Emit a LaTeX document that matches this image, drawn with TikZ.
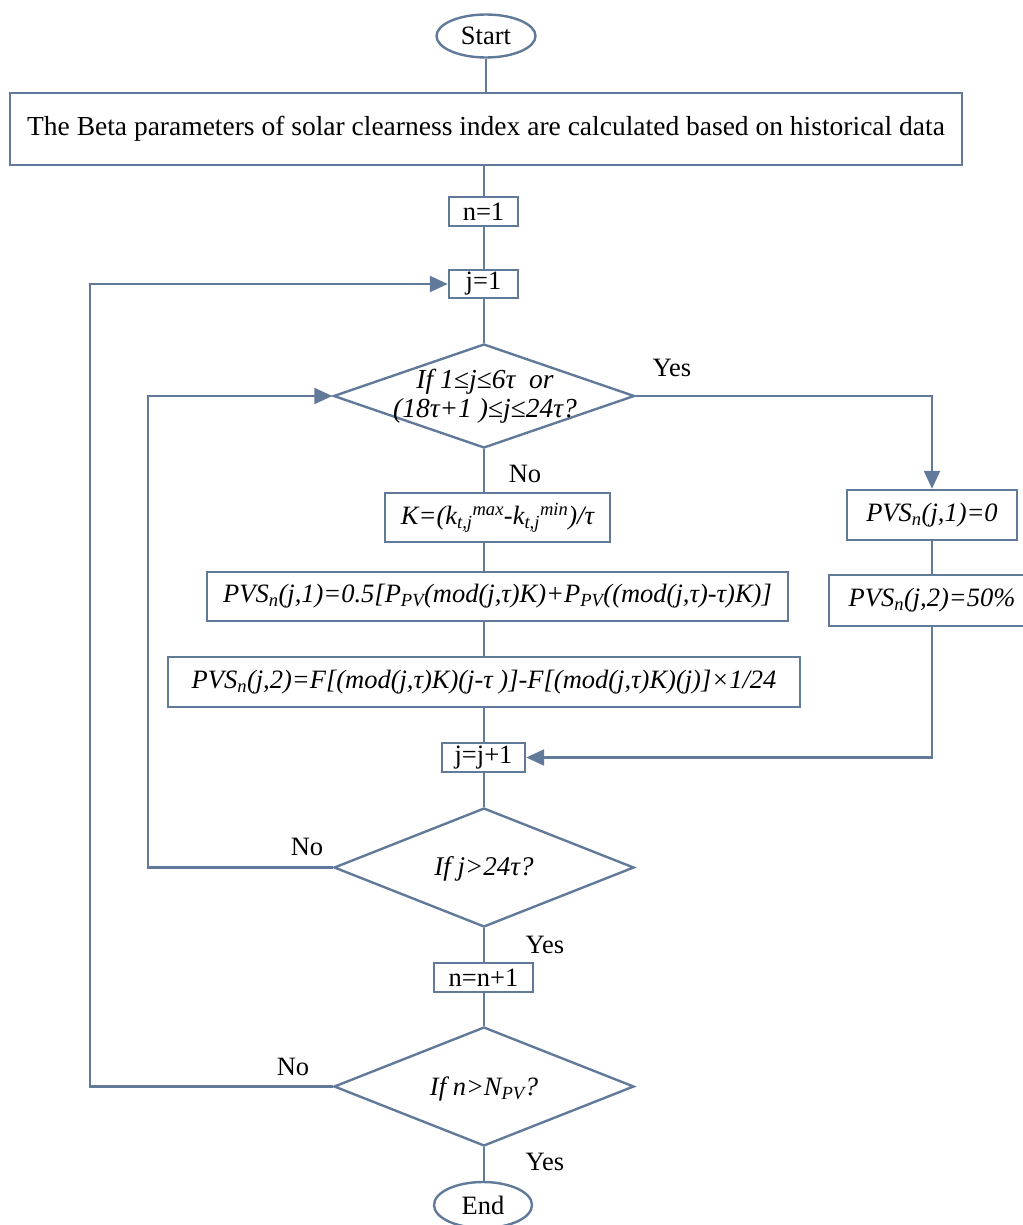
\documentclass[tikz,border=0pt]{standalone}
\usepackage{fontspec}
\setmainfont{Liberation Serif}
\usetikzlibrary{shapes.geometric,arrows.meta}
\definecolor{lc}{RGB}{98,122,154}
\tikzset{
  txt/.style={font=\fontsize{26.5}{31}\selectfont},
  itxt/.style={font=\fontsize{26.5}{31}\selectfont\itshape},
  flow/.style={draw=lc, line width=2.4pt},
  arr/.style={flow, -{Triangle[length=18pt,width=16pt]}},
  proc/.style={txt, draw=lc, line width=2.4pt, fill=white, rectangle, inner sep=0pt},
  term/.style={txt, draw=lc, line width=2.4pt, fill=white, ellipse, inner sep=0pt},
  decision/.style={draw=lc, line width=2.4pt, fill=white, diamond, inner sep=0pt},
  lbl/.style={txt, inner sep=0pt}
}
\begin{document}
\begin{tikzpicture}[x=1pt,y=-1pt]
\useasboundingbox (0,0) rectangle (1022,1225);

% nodes of the main column
\node[term, minimum width=99pt, minimum height=43pt] (start) at (486,36) {Start};
\node[proc, minimum width=952pt, minimum height=72pt, font=\fontsize{27.5}{32}\selectfont] (beta) at (486,129)
  {The Beta parameters of solar clearness index are calculated based on historical data};
\node[proc, minimum width=69pt, minimum height=29pt] (n1) at (483.5,211.5) {n=1};
\node[proc, minimum width=69pt, minimum height=28pt] (j1) at (483.5,284) {j=1};
\node[decision, minimum width=301pt, minimum height=104pt] (d1) at (484,396) {};
\node[lbl, align=center, font=\fontsize{27.5}{29}\selectfont\itshape] (d1t) at (485,396)
  {If 1≤j≤6τ\ \ or\\(18τ+1 )≤j≤24τ?};
\node[proc, itxt, minimum width=225pt, minimum height=49pt] (kk) at (497.5,517.5)
  {K=(k\textsubscript{t,j}\textsuperscript{max}-k\textsubscript{t,j}\textsuperscript{min})/τ};
\node[proc, itxt, minimum width=581pt, minimum height=49pt] (f1) at (497.5,596.5)
  {PVS\textsubscript{n}(j,1)=0.5[P\textsubscript{PV}(mod(j,τ)K)+P\textsubscript{PV}((mod(j,τ)-τ)K)]};
\node[proc, itxt, minimum width=632pt, minimum height=50pt] (f2) at (484,682)
  {PVS\textsubscript{n}(j,2)=F[(mod(j,τ)K)(j-τ )]-F[(mod(j,τ)K)(j)]×1/24};
\node[proc, itxt, minimum width=170pt, minimum height=50pt] (p1) at (932,515)
  {PVS\textsubscript{n}(j,1)=0};
\node[proc, itxt, minimum width=206pt, minimum height=51pt] (p2) at (932,600.5)
  {PVS\textsubscript{n}(j,2)=50\%};
\node[proc, minimum width=83pt, minimum height=29pt] (jj) at (483.5,757.5) {j=j+1};
\node[decision, minimum width=300pt, minimum height=119pt] (d2) at (484,867.5) {};
\node[lbl, font=\fontsize{27}{31}\selectfont\itshape] (d2t) at (484,869) {If j>24τ?};
\node[proc, minimum width=99pt, minimum height=29pt] (nn) at (483.5,977.5) {n=n+1};
\node[decision, minimum width=300pt, minimum height=119pt] (d3) at (484,1086.5) {};
\node[lbl, itxt] (d3t) at (484,1089) {If n>N\textsubscript{PV}?};
\node[term, minimum width=98pt, minimum height=46pt] (end) at (483,1205) {End};

% branch labels
\node[lbl] (yes1) at (672,368) {Yes};
\node[lbl] (no1) at (525,474) {No};
\node[lbl] (no2) at (307,847) {No};
\node[lbl] (yes2) at (545,945) {Yes};
\node[lbl] (no3) at (293,1067) {No};
\node[lbl] (yes3) at (545,1162) {Yes};

% loop-back columns
\coordinate (loopj) at (148,0);
\coordinate (loopn) at (90,0);

% connectors
\draw[flow] (start) -- (start |- beta.north);
\draw[flow] (d1.north |- beta.south) -- (d1.north |- n1.north);
\draw[flow] (d1.north |- n1.south) -- (d1.north |- j1.north);
\draw[flow] (d1.north |- j1.south) -- (d1.north);
\draw[arr] (d1.east) -| (p1.north);
\draw[flow] (d1.south) -- (d1.south |- kk.north);
\draw[flow] (d1.south |- kk.south) -- (d1.south |- f1.north);
\draw[flow] (d1.south |- f1.south) -- (d1.south |- f2.north);
\draw[flow] (d1.south |- f2.south) -- (d1.south |- jj.north);
\draw[flow] (p1) -- (p2);
\draw[arr] (p2.south) |- (jj.east);
\draw[flow] (d2.north |- jj.south) -- (d2.north);
\draw[arr] (d2.west) -- (d2.west -| loopj) |- (d1.west);
\draw[flow] (d2.south) -- (d2.south |- nn.north);
\draw[flow] (d3.north |- nn.south) -- (d3.north);
\draw[arr] (d3.west) -- (d3.west -| loopn) |- (j1.west);
\draw[flow] (d3.south) -- (d3.south |- end.north);
\end{tikzpicture}
\end{document}
